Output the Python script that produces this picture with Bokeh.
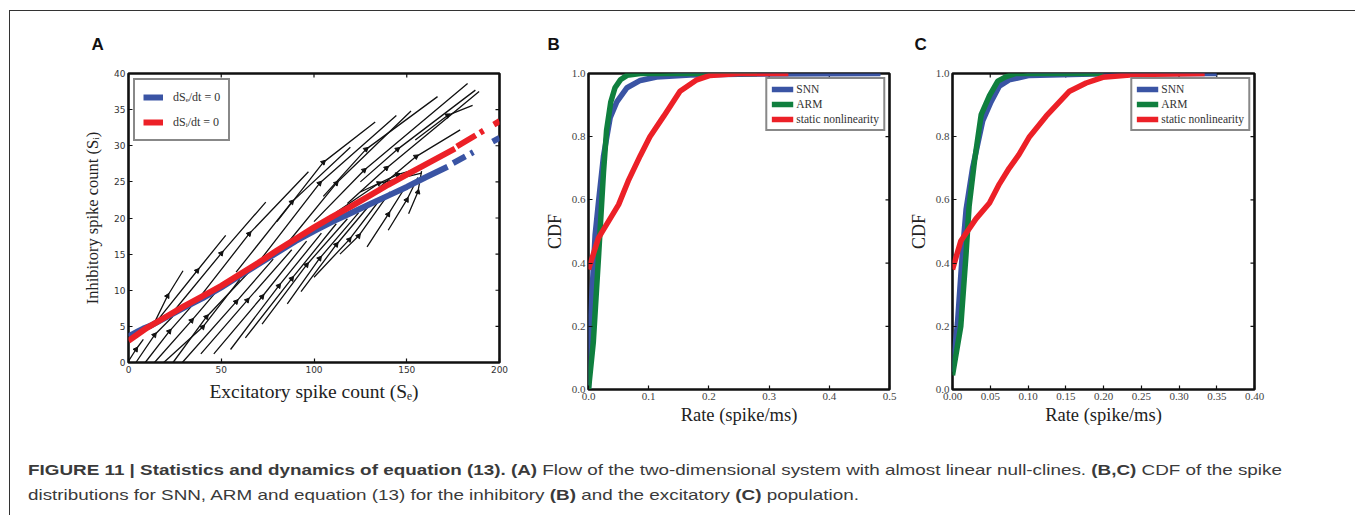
import numpy as np
from bokeh.plotting import figure
from bokeh.models import (Legend, LegendItem, FixedTicker, Div, NumeralTickFormatter, Range1d)
from bokeh.layouts import row, column
from bokeh.embed import file_html
from bokeh.resources import INLINE

# ---------------- Panel A data ----------------
NULL_E_SE = [0, 2, 5, 8, 12, 20, 30, 40, 50, 60, 70, 80, 90, 100, 110, 120, 130, 140, 150, 160, 172]
NULL_E_SI = [3.6, 3.9, 4.3, 4.7, 5.1, 6.2, 7.6, 8.9, 10.4, 12.0, 13.6, 15.2, 16.8, 18.2, 19.5, 20.7,
             21.9, 23.1, 24.3, 25.6, 27.1]
NULL_E_DASH_SE = [175, 200]
NULL_E_DASH_SI = [27.6, 31.1]
NULL_I_SE = [0, 5, 10, 20, 30, 40, 50, 60, 70, 80, 90, 100, 110, 120, 130, 140, 150, 160, 176]
NULL_I_SI = [3.0, 3.9, 4.8, 6.3, 7.8, 9.2, 10.6, 12.2, 13.8, 15.5, 17.1, 18.7, 20.2, 21.6, 23.1, 24.6,
             26.0, 27.4, 29.6]
NULL_I_DASH_SE = [177, 200]
NULL_I_DASH_SI = [29.9, 33.4]

STREAM_SE = [
    [13, 21, 29.4], [14, 37, 52.4], [25, 50, 74], [38, 65, 97], [58, 88, 119.6],
    [80, 105, 133], [72, 103, 144.4], [85, 112, 152.3], [105, 128, 166.6], [100, 127, 182.8],
    [125, 145, 187], [118, 139, 189], [135, 155, 178.8], [154.6, 172, 185.5],
    [0, 4, 8], [4, 14, 24], [9, 22, 36], [14, 34, 50], [19, 40, 60], [24, 42, 66],
    [29, 58, 78], [39, 64, 88], [46, 72, 96], [55, 81, 104], [63, 88, 112], [72, 96, 118],
    [85.6, 103, 124], [93, 112, 130], [100, 119, 136], [114, 124, 141], [128.6, 140, 150],
    [140, 150, 156], [151, 156, 158], [112, 135, 158], [125, 145, 157],
]
STREAM_SI = [
    [5.0, 9.2, 12.7], [5.3, 12.7, 17.6], [7.3, 15.1, 22.2], [8.9, 17.8, 26.4], [12.5, 22.2, 29.8],
    [19.5, 27.7, 33.3], [14.5, 24.8, 34.2], [16.3, 24.8, 34.8], [23.0, 29.5, 36.8], [19.5, 26.6, 38.6],
    [25.0, 29.5, 37.7], [22.0, 26.9, 37.5], [24.2, 28.5, 32.2], [30.8, 34.2, 35.6],
    [0.2, 1.8, 3.2], [0.0, 3.8, 6.4], [0.0, 4.3, 8.4], [0.0, 5.8, 10.6], [0.0, 4.9, 11.5], [0.0, 6.3, 12.8],
    [0.0, 8.4, 14.3], [1.2, 8.6, 15.6], [1.2, 9.1, 16.8], [1.8, 10.6, 17.9], [3.4, 11.6, 19.2], [5.3, 13.5, 19.9],
    [8.1, 14.4, 20.7], [9.8, 16.3, 21.8], [11.8, 17.0, 22.7], [15.0, 17.5, 23.6], [16.0, 20.5, 24.6],
    [18.3, 22.5, 25.6], [20.6, 23.6, 26.5], [20.8, 24.8, 26.2], [23.6, 26.0, 26.9],
]
A_XTICKS = [0, 50, 100, 150, 200]
A_YTICKS = [0, 5, 10, 15, 20, 25, 30, 35, 40]

# ---------------- Panel B data (inhibitory) ----------------
B_SNN_X = [0, 0.003, 0.011, 0.017, 0.025, 0.036, 0.047, 0.064, 0.086, 0.113, 0.169, 0.25, 0.485]
B_SNN_Y = [0, 0.21, 0.49, 0.60, 0.74, 0.86, 0.91, 0.955, 0.978, 0.989, 0.995, 0.998, 1.0]
B_ARM_X = [0, 0.008, 0.017, 0.025, 0.030, 0.037, 0.044, 0.053, 0.064, 0.086, 0.28]
B_ARM_Y = [0, 0.15, 0.43, 0.69, 0.82, 0.91, 0.955, 0.98, 0.994, 1.0, 1.0]
B_STAT_X = [0, 0.0166, 0.05, 0.066, 0.086, 0.102, 0.125, 0.152, 0.18, 0.202, 0.25, 0.332]
B_STAT_Y = [0.38, 0.48, 0.585, 0.66, 0.74, 0.80, 0.865, 0.944, 0.98, 0.994, 1.0, 1.0]

# ---------------- Panel C data (excitatory) ----------------
C_SNN_X = [0, 0.0066, 0.013, 0.018, 0.0265, 0.04, 0.051, 0.062, 0.075, 0.102, 0.2, 0.35]
C_SNN_Y = [0.056, 0.21, 0.43, 0.57, 0.70, 0.85, 0.91, 0.96, 0.98, 0.994, 0.999, 1.0]
C_ARM_X = [0, 0.011, 0.018, 0.022, 0.029, 0.038, 0.049, 0.060, 0.071, 0.084, 0.2]
C_ARM_Y = [0.045, 0.20, 0.43, 0.58, 0.72, 0.87, 0.93, 0.976, 0.99, 1.0, 1.0]
C_STAT_X = [0, 0.011, 0.031, 0.049, 0.062, 0.075, 0.088, 0.102, 0.124, 0.155, 0.177, 0.199, 0.243, 0.334]
C_STAT_Y = [0.38, 0.47, 0.54, 0.59, 0.65, 0.70, 0.743, 0.80, 0.865, 0.944, 0.97, 0.988, 0.997, 1.0]

B_XTICKS = [0.0, 0.1, 0.2, 0.3, 0.4, 0.5]
C_XTICKS = [0.0, 0.05, 0.10, 0.15, 0.20, 0.25, 0.30, 0.35, 0.40]
CDF_YTICKS = [0.0, 0.2, 0.4, 0.6, 0.8, 1.0]

SERIES = ["SNN", "ARM", "static nonlinearity"]
BLUE, GREEN, RED = "#3a54a4", "#0f7f3e", "#ec2027"
SERIF = "Liberation Serif"


def inner_ticks(p, xt, yt, xr, yr, fw, fh):
    """Ticks pointing inward on all four sides (matplotlib classic style)."""
    for ax in list(p.xaxis) + list(p.yaxis):
        ax.major_tick_in = 4
        ax.major_tick_out = 0
        ax.minor_tick_line_color = None
        ax.axis_line_color = None
        ax.major_tick_line_color = "#111111"
        ax.major_tick_line_width = 1.2
    dy = 4.0 * (yr[1] - yr[0]) / fh
    dx = 4.0 * (xr[1] - xr[0]) / fw
    p.segment(x0=xt, y0=[yr[1]] * len(xt), x1=xt, y1=[yr[1] - dy] * len(xt),
              line_color="#111111", line_width=1.2)
    p.segment(x0=[xr[1]] * len(yt), y0=yt, x1=[xr[1] - dx] * len(yt), y1=yt,
              line_color="#111111", line_width=1.2)


def base_fig(fw, fh, bl, br, bt, bb, xr, yr, letter, letter_offset):
    p = figure(frame_width=fw, frame_height=fh, x_range=Range1d(*xr), y_range=Range1d(*yr),
               output_backend="svg", toolbar_location=None, min_border_left=bl,
               min_border_right=br, min_border_top=bt, min_border_bottom=bb, title=letter)
    p.grid.visible = False
    p.outline_line_color = "#111111"
    p.outline_line_width = 2.6
    p.background_fill_color = "white"
    p.border_fill_color = "white"
    p.title.align = "left"
    p.title.offset = letter_offset
    p.title.standoff = 39
    p.title.text_font = "Liberation Sans"
    p.title.text_font_style = "bold"
    p.title.text_font_size = "17px"
    p.title.text_color = "#111111"
    return p


# ---------------- Panel A ----------------
A_XR, A_YR = (0, 200), (0, 40)
pa = base_fig(371, 289, 118, 41, 62, 79, A_XR, A_YR, "A", -37)
pa.xaxis.ticker = FixedTicker(ticks=A_XTICKS)
pa.yaxis.ticker = FixedTicker(ticks=A_YTICKS)
for ax in list(pa.xaxis) + list(pa.yaxis):
    ax.major_label_text_font = "DejaVu Sans"
    ax.major_label_text_font_size = "9px"
    ax.major_label_text_color = "#333333"
    ax.axis_label_text_font = SERIF
    ax.axis_label_text_font_style = "normal"
    ax.axis_label_text_color = "#222222"
pa.xaxis.axis_label = "Excitatory spike count (Sₑ)"
pa.yaxis.axis_label = "Inhibitory spike count (Sᵢ)"
pa.xaxis.axis_label_text_font_size = "19.5px"
pa.yaxis.axis_label_text_font_size = "16.5px"
pa.xaxis.major_label_standoff = 3
pa.yaxis.major_label_standoff = 3
pa.xaxis.axis_label_standoff = 5
pa.yaxis.axis_label_standoff = 9
inner_ticks(pa, A_XTICKS, A_YTICKS, A_XR, A_YR, 371, 289)

pa.multi_line(xs=STREAM_SE, ys=STREAM_SI, line_color="#111111", line_width=1.3)
sx_per = 371 / 200.0
sy_per = 289 / 40.0
ax_x, ax_y, ang = [], [], []
for xs, ys in zip(STREAM_SE, STREAM_SI):
    m = len(xs) // 2
    dx = (xs[m + 1] - xs[m - 1]) * sx_per
    dy = (ys[m + 1] - ys[m - 1]) * sy_per
    ax_x.append(xs[m])
    ax_y.append(ys[m])
    ang.append(np.arctan2(dy, dx) - np.pi / 2)
pa.scatter(ax_x, ax_y, marker="triangle", size=5, angle=ang, fill_color="#111111",
           line_color="#111111")

r_e = pa.line(NULL_E_SE, NULL_E_SI, line_color=BLUE, line_width=6)
pa.line(NULL_E_DASH_SE, NULL_E_DASH_SI, line_color=BLUE, line_width=6, line_dash="14 6 3 22")
r_i = pa.line(NULL_I_SE, NULL_I_SI, line_color=RED, line_width=6)
pa.line(NULL_I_DASH_SE, NULL_I_DASH_SI, line_color=RED, line_width=6, line_dash="22 5 4 12")

leg_a = Legend(items=[LegendItem(label="dSₑ/dt = 0", renderers=[r_e]),
                      LegendItem(label="dSᵢ/dt = 0", renderers=[r_i])],
               location="top_left", border_line_color="#111111", border_line_width=2,
               label_text_font=SERIF, label_text_font_size="12px", label_text_color="#333333",
               glyph_width=20, glyph_height=12, label_height=18, spacing=7, padding=8,
               margin=5, background_fill_alpha=1, label_standoff=10)
pa.add_layout(leg_a)


# ---------------- Panels B, C ----------------
def cdf_fig(bl, br, fw, xr, xt, fmt, snn, arm, stat, let, let_off):
    p = base_fig(fw, 316, bl, br, 61, 53, xr, (0, 1), let, let_off)
    p.xaxis.ticker = FixedTicker(ticks=xt)
    p.yaxis.ticker = FixedTicker(ticks=CDF_YTICKS)
    p.xaxis.formatter = NumeralTickFormatter(format=fmt)
    p.yaxis.formatter = NumeralTickFormatter(format="0.0")
    for ax in list(p.xaxis) + list(p.yaxis):
        ax.major_label_text_font = SERIF
        ax.major_label_text_font_size = "11px"
        ax.major_label_text_color = "#444444"
        ax.axis_label_text_font = SERIF
        ax.axis_label_text_font_style = "normal"
        ax.axis_label_text_font_size = "18px"
        ax.axis_label_text_color = "#222222"
        ax.major_label_standoff = 3
    p.yaxis.axis_label = "CDF"
    p.yaxis.axis_label_standoff = 4
    p.xaxis.axis_label = "Rate (spike/ms)"
    p.xaxis.axis_label_text_font_size = "18.5px"
    p.xaxis.axis_label_standoff = 2
    inner_ticks(p, xt, CDF_YTICKS, xr, (0, 1), fw, 316)
    rs = []
    for (xs, ys), col in zip([snn, arm, stat], [BLUE, GREEN, RED]):
        rs.append(p.line(xs, ys, line_color=col, line_width=5.5))
    leg = Legend(items=[LegendItem(label=s, renderers=[r]) for s, r in zip(SERIES, rs)],
                 location="top_right", border_line_color="#111111", border_line_width=2.2,
                 label_text_font=SERIF, label_text_font_size="11.5px", label_text_color="#333333",
                 glyph_width=22, glyph_height=10, label_height=12, spacing=3, padding=4,
                 margin=4, label_standoff=3)
    p.add_layout(leg)
    return p


pb = cdf_fig(48, 16, 301, (0, 0.5), B_XTICKS, "0.0", (B_SNN_X, B_SNN_Y), (B_ARM_X, B_ARM_Y),
             (B_STAT_X, B_STAT_Y), "B", -41)
pc = cdf_fig(45, 93, 302, (0, 0.4), C_XTICKS, "0.00", (C_SNN_X, C_SNN_Y), (C_ARM_X, C_ARM_Y),
             (C_STAT_X, C_STAT_Y), "C", -38)

caption = Div(
    text=("<b>FIGURE 11 | Statistics and dynamics of equation (13). (A)</b> Flow of the two-dimensional "
          "system with almost linear null-clines. <b>(B,C)</b> CDF of the spike<br>"
          "distributions for SNN, ARM and equation (13) for the inhibitory <b>(B)</b> and the "
          "excitatory <b>(C)</b> population."),
    width=1335, height=90,
    styles={"font-family": "'Liberation Sans', Arial, sans-serif", "font-size": "14.5px",
            "color": "#3a3a3a", "line-height": "25px", "padding-left": "10px",
            "padding-top": "12px", "white-space": "nowrap", "transform": "scaleX(1.3)",
            "transform-origin": "0 0"})

layout = column(row(pa, pb, pc, spacing=0), caption, spacing=0,
                styles={"border-left": "1.5px solid #333", "border-top": "1.5px solid #333",
                        "border-right": "1.5px solid #333", "margin-left": "9px",
                        "margin-top": "10px", "background": "white"})

open("out.html", "w").write(file_html(layout, INLINE))
